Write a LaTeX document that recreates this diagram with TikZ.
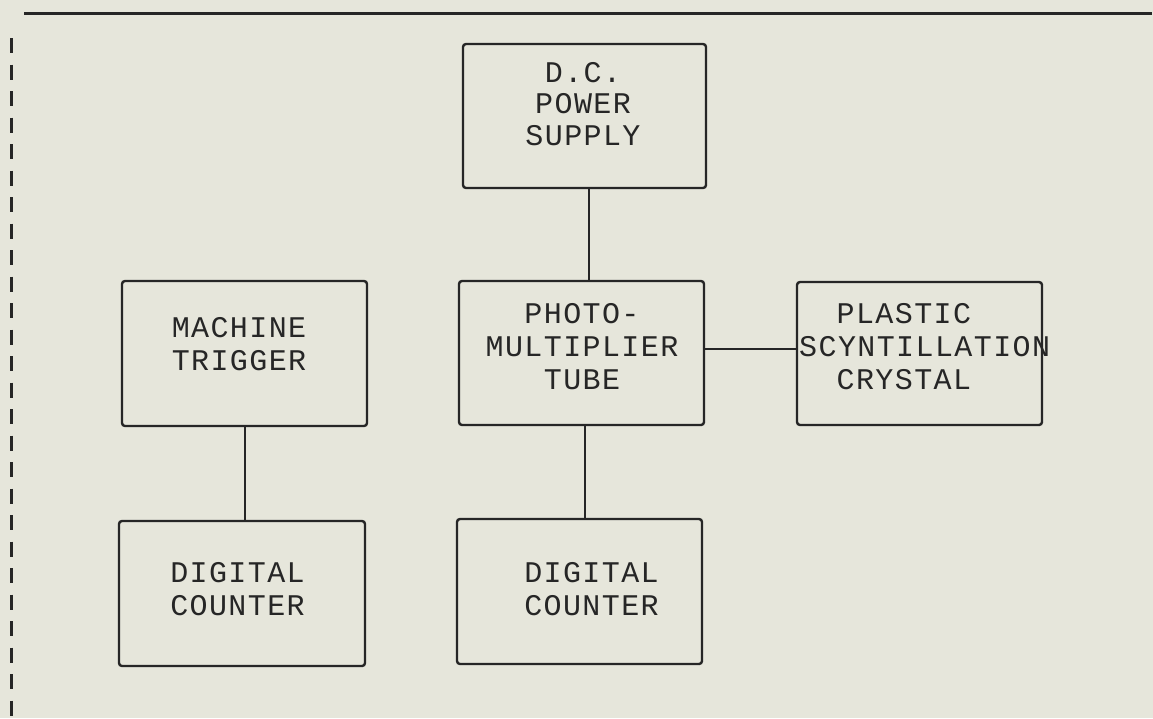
\documentclass[tikz,border=0pt]{standalone}
\usepackage{fontspec}
\newfontfamily\plotfont[LetterSpace=4.7]{Liberation Mono}
\definecolor{paper}{RGB}{230,230,219}
\definecolor{ink}{RGB}{38,38,38}
\tikzset{
  box/.style={draw=ink, line width=2.4pt, rounded corners=3pt, minimum width=245pt, minimum height=145pt, inner sep=0pt},
  lbl/.style={font=\plotfont\fontsize{30}{33}\selectfont, text=ink, inner sep=0pt, anchor=north, align=center},
  lbll/.style={lbl, align=left, anchor=north west},
  wire/.style={draw=ink, line width=2pt},
  frame/.style={draw=ink, line width=3pt}
}
\begin{document}
\begin{tikzpicture}[x=1pt,y=-1pt]
\fill[paper] (0,0) rectangle (1153,718);
\useasboundingbox (0,0) rectangle (1153,718);
% frame lines
\coordinate (tl) at (24,13);
\coordinate (tr) at (1152,13);
\coordinate (lt) at (11,38);
\coordinate (lb) at (11,718);
\draw[frame] (tl) -- (tr);
\draw[frame, dash pattern=on 15pt off 11.5pt] (lt) -- (lb);
% boxes
\node[box, minimum width=243pt, minimum height=144pt] (power) at (584.5,116) {};
\node[box] (mt) at (244.5,353.5) {};
\node[box, minimum height=144pt] (pmt) at (581.5,353) {};
\node[box, minimum height=143pt] (plastic) at (919.5,353.5) {};
\node[box, minimum width=246pt] (dcl) at (242,593.5) {};
\node[box] (dcr) at (579.5,591.5) {};
% labels
\node[lbl, font=\plotfont\fontsize{30}{31.5}\selectfont] (tpower) at (583,62) {D.C.\\POWER\\SUPPLY};
\node[lbl] (tmt) at (239,317) {MACHINE\\TRIGGER};
\node[lbl] (tpmt) at (582,303) {PHOTO-\\MULTIPLIER\\TUBE};
\node[lbll] (tplastic) at (799,303) {\phantom{PL}PLASTIC\\SCYNTILLATION\\\phantom{PL}CRYSTAL};
\node[lbl] (tdcl) at (237.5,562) {DIGITAL\\COUNTER};
\node[lbl] (tdcr) at (591.5,562) {DIGITAL\\COUNTER};
% connectors
\draw[wire] ([xshift=4.5pt]power.south) -- ([xshift=4.5pt]power.south |- pmt.north);
\draw[wire] (mt.south) -- (mt.south |- dcl.north);
\draw[wire] ([xshift=3.5pt]pmt.south) -- ([xshift=3.5pt]pmt.south |- dcr.north);
\draw[wire] ([yshift=4pt]pmt.east) -- ([yshift=4pt]pmt.east -| plastic.west);
\end{tikzpicture}
\end{document}
